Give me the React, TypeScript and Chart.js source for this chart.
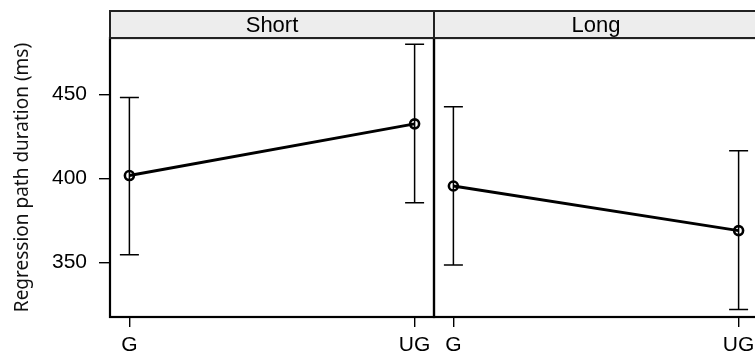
import React, { useEffect, useRef } from 'react';
import { Chart, registerables } from 'chart.js';

Chart.register(...registerables);

// ---- data ----
const categories = ['G', 'UG'];
const panelLabels = ['Short', 'Long'];
const shortMean = [401.7, 432.4];
const shortLower = [354.6, 385.6];
const shortUpper = [448.0, 479.7];
const longMean = [395.5, 369.0];
const longLower = [348.6, 322.1];
const longUpper = [442.6, 416.5];
const yTicks = [350, 400, 450];
const yTitle = 'Regression path duration (ms)';
const yMin = 317.7;
const yMax = 483.4;
const xPad = 0.068;

const H = 359;
const STRIP_TOP = 11;
const PANEL_TOP = 38;

function latticePlugin(label: string, lower: number[], upper: number[]) {
  return {
    id: 'lattice_' + label,
    beforeDatasetsDraw(chart: any) {
      const ctx = chart.ctx;
      const xs = chart.scales.x;
      const ys = chart.scales.y;
      ctx.save();
      ctx.strokeStyle = '#000';
      ctx.lineWidth = 1.5;
      categories.forEach((_, i) => {
        const x = xs.getPixelForValue(i + 1);
        const yl = ys.getPixelForValue(lower[i]);
        const yu = ys.getPixelForValue(upper[i]);
        ctx.beginPath();
        ctx.moveTo(x, yl);
        ctx.lineTo(x, yu);
        ctx.moveTo(x - 9.5, yl);
        ctx.lineTo(x + 9.5, yl);
        ctx.moveTo(x - 9.5, yu);
        ctx.lineTo(x + 9.5, yu);
        ctx.stroke();
      });
      ctx.restore();
    },
    afterDraw(chart: any) {
      const ctx = chart.ctx;
      const a = chart.chartArea;
      ctx.save();
      // panel frame
      ctx.strokeStyle = '#000';
      ctx.lineWidth = 2.2;
      ctx.strokeRect(a.left, a.top, a.right - a.left, a.bottom - a.top);
      // strip
      ctx.fillStyle = '#ededed';
      ctx.fillRect(a.left, STRIP_TOP, a.right - a.left, a.top - STRIP_TOP);
      ctx.strokeStyle = '#222';
      ctx.lineWidth = 2;
      ctx.strokeRect(a.left, STRIP_TOP, a.right - a.left, a.top - STRIP_TOP);
      ctx.fillStyle = '#000';
      ctx.font = '22px "Liberation Sans", Arial, sans-serif';
      ctx.textAlign = 'center';
      ctx.textBaseline = 'middle';
      ctx.fillText(label, (a.left + a.right) / 2, (STRIP_TOP + a.top) / 2 + 1);
      ctx.restore();
    },
  };
}

function makeConfig(
  label: string,
  mean: number[],
  lower: number[],
  upper: number[],
  showY: boolean
): any {
  const tickFont = { family: '"Liberation Sans", Arial, sans-serif', size: 21 };
  return {
    type: 'line',
    data: {
      datasets: [
        {
          data: categories.map((_, i) => ({ x: i + 1, y: mean[i] })),
          borderColor: '#000',
          borderWidth: 3,
          pointRadius: 4.5,
          pointBorderWidth: 2.6,
          pointBorderColor: '#000',
          pointBackgroundColor: 'rgba(0,0,0,0)',
          fill: false,
          tension: 0,
        },
      ],
    },
    options: {
      responsive: false,
      animation: false,
      layout: {
        autoPadding: false,
        padding: { top: PANEL_TOP, left: showY ? 0 : 2, right: 2, bottom: 0 },
      },
      plugins: { legend: { display: false }, tooltip: { enabled: false } },
      scales: {
        x: {
          type: 'linear',
          min: 1 - xPad,
          max: categories.length + xPad,
          afterBuildTicks: (s: any) => {
            s.ticks = categories.map((_, i) => ({ value: i + 1 }));
          },
          afterFit: (s: any) => {
            s.height = 42;
            s.paddingLeft = 0;
            s.paddingRight = 0;
          },
          ticks: {
            callback: (v: any) => categories[Math.round(v) - 1] ?? '',
            font: tickFont,
            color: '#000',
            padding: 6,
            maxRotation: 0,
            autoSkip: false,
          },
          grid: {
            drawOnChartArea: false,
            drawTicks: true,
            tickLength: 10,
            color: '#000',
            lineWidth: 1.4,
          },
          border: { display: false },
        },
        y: {
          type: 'linear',
          display: showY,
          min: yMin,
          max: yMax,
          afterBuildTicks: (s: any) => {
            s.ticks = yTicks.map((v) => ({ value: v }));
          },
          afterFit: (s: any) => {
            s.width = showY ? 110 : 0;
            s.paddingTop = 0;
            s.paddingBottom = 0;
          },
          ticks: {
            font: tickFont,
            color: '#000',
            padding: 12,
          },
          grid: {
            drawOnChartArea: false,
            drawTicks: true,
            tickLength: 11,
            color: '#000',
            lineWidth: 1.4,
          },
          border: { display: false },
          title: {
            display: true,
            text: yTitle,
            color: '#111',
            font: { family: '"Noto Sans", "Open Sans", sans-serif', size: 19 },
            padding: { top: 11.5, bottom: 0 },
          },
        },
      },
    },
    plugins: [latticePlugin(label, lower, upper)],
  };
}

export default function App() {
  const leftRef = useRef<HTMLCanvasElement | null>(null);
  const rightRef = useRef<HTMLCanvasElement | null>(null);

  useEffect(() => {
    const c1 = new Chart(
      leftRef.current as HTMLCanvasElement,
      makeConfig(panelLabels[0], shortMean, shortLower, shortUpper, true)
    );
    const c2 = new Chart(
      rightRef.current as HTMLCanvasElement,
      makeConfig(panelLabels[1], longMean, longLower, longUpper, false)
    );
    return () => {
      c1.destroy();
      c2.destroy();
    };
  }, []);

  return (
    <div
      style={{
        position: 'fixed',
        left: 0,
        top: 0,
        width: 755,
        height: H,
        overflow: 'hidden',
        background: '#fff',
      }}
    >
      <canvas
        ref={leftRef}
        width={436}
        height={H}
        style={{ position: 'absolute', left: 0, top: 0, width: 436, height: H }}
      />
      <canvas
        ref={rightRef}
        width={328}
        height={H}
        style={{ position: 'absolute', left: 432, top: 0, width: 328, height: H }}
      />
    </div>
  );
}
